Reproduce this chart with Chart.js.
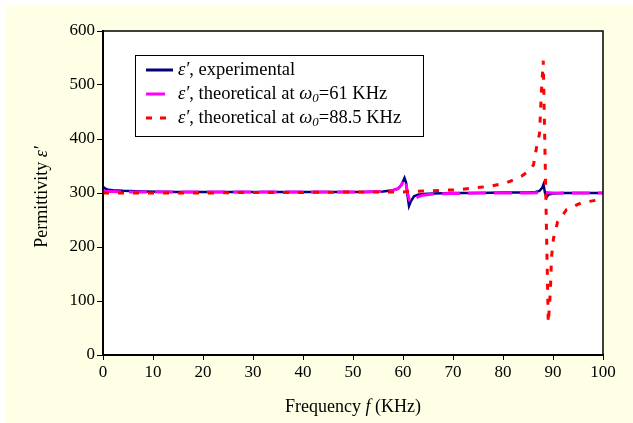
<!DOCTYPE html>
<html>
<head>
<meta charset="utf-8">
<script src="https://cdn.jsdelivr.net/npm/chart.js@4.4.1/dist/chart.umd.min.js"></script>
<style>
  html, body { margin: 0; padding: 0; background: #fff; }
  #wrap { width: 633px; height: 423px; }
</style>
</head>
<body>
<div id="wrap"><canvas id="graph"></canvas></div>
<script>
// frequency (KHz) and permittivity
const expFreq = [0, 0.3, 1, 2, 4, 8, 15, 25, 35, 45, 52, 56, 58, 59, 59.7, 60.3, 60.6, 60.9, 61.2, 61.6, 62.2, 63, 64, 66, 70, 75, 80, 85, 86.5, 87.3, 87.8, 88.1, 88.4, 88.7, 89.1, 90, 92, 95, 100];
const expPerm = [312, 309, 306, 305, 304, 303, 302, 302, 302, 302, 302, 303, 305, 308, 315, 328, 320, 295, 276, 285, 294, 297, 298, 299, 300, 300, 301, 301, 302, 304, 309, 316, 300, 292, 297, 299, 300, 300, 300];

const th61Freq = [0, 1, 5, 15, 30, 45, 52, 56, 58, 59, 59.7, 60.2, 60.6, 60.9, 61.3, 61.7, 62.3, 63, 64, 66, 70, 75, 80, 85, 88, 90, 95, 100];
const th61Perm = [303, 303, 302, 302, 302, 302, 302, 303, 305, 308, 315, 326, 318, 300, 286, 284, 289, 293, 296, 298, 299, 300, 300, 300, 301, 300, 300, 300];

const th88Freq = [0, 10, 20, 30, 40, 50, 55, 60, 62, 65, 68, 71, 74, 77.7, 80.7, 83.7, 85, 86.1, 86.7, 87.3, 87.5, 87.7, 88.05, 89.05, 89.3, 89.5, 89.7, 90.1, 90.9, 92.7, 95.7, 98.9, 100];
const th88Perm = [300, 300, 300, 301, 301, 302, 302, 302, 303, 304, 305, 306, 309, 313, 319, 331, 340, 352, 384, 410, 450, 490, 545, 60, 90, 126, 181, 216, 246, 269, 282, 287, 289];

const xTicks = [0, 10, 20, 30, 40, 50, 60, 70, 80, 90, 100];
const yTicks = [0, 100, 200, 300, 400, 500, 600];

function pts(xs, ys) {
    return xs.map((x, i) => ({ x: x, y: ys[i] }));
}

const serif = '"Liberation Serif", "Times New Roman", serif';

// legend rows: pieces are [text, italic, subscript]
const legendRows = [
    { color: '#000080', dash: [], pieces: [['ε′', true], [', experimental', false]] },
    { color: '#ff00ff', dash: [19, 9], pieces: [['ε′', true], [', theoretical at ', false], ['ω', true], ['0', true, true], ['=61 KHz', false]] },
    { color: '#ff0000', dash: [6, 8], pieces: [['ε′', true], [', theoretical at ', false], ['ω', true], ['0', true, true], ['=88.5 KHz', false]] }
];

function drawPieces(ctx, pieces, x, y, size) {
    pieces.forEach(p => {
        const sz = p[2] ? size * 0.7 : size;
        ctx.font = (p[1] ? 'italic ' : '') + sz + 'px ' + serif;
        ctx.fillText(p[0], x, p[2] ? y + size * 0.25 : y);
        x += ctx.measureText(p[0]).width;
    });
    return x;
}

function piecesWidth(ctx, pieces, size) {
    let w = 0;
    pieces.forEach(p => {
        const sz = p[2] ? size * 0.7 : size;
        ctx.font = (p[1] ? 'italic ' : '') + sz + 'px ' + serif;
        w += ctx.measureText(p[0]).width;
    });
    return w;
}

const decor = {
    id: 'decor',
    beforeDraw(chart) {
        const ctx = chart.ctx, a = chart.chartArea;
        ctx.save();
        ctx.fillStyle = '#ffffff';
        ctx.fillRect(0, 0, chart.width, chart.height);
        ctx.fillStyle = '#ffffe5';
        ctx.fillRect(6, 5, chart.width - 6, chart.height - 5);
        ctx.fillStyle = '#ffffff';
        ctx.fillRect(a.left, a.top, a.right - a.left, a.bottom - a.top);
        ctx.restore();
    },
    afterDraw(chart) {
        const ctx = chart.ctx, a = chart.chartArea;
        ctx.save();
        ctx.strokeStyle = '#000';
        ctx.lineWidth = 1.5;
        ctx.strokeRect(a.left, a.top, a.right - a.left, a.bottom - a.top);

        // axis titles
        ctx.fillStyle = '#000';
        ctx.textBaseline = 'middle';
        ctx.textAlign = 'left';
        const xt = [['Frequency ', false], ['f', true], [' (KHz)', false]];
        const xw = piecesWidth(ctx, xt, 18);
        drawPieces(ctx, xt, (a.left + a.right) / 2 - xw / 2, 407, 18);

        ctx.save();
        ctx.translate(42, 197);
        ctx.rotate(-Math.PI / 2);
        const yt = [['Permittivity ', false], ['ε′', true]];
        const yw = piecesWidth(ctx, yt, 18);
        drawPieces(ctx, yt, -yw / 2, 0, 18);
        ctx.restore();

        // legend box
        ctx.fillStyle = '#fff';
        ctx.fillRect(135, 55, 288, 81);
        ctx.strokeStyle = '#000';
        ctx.lineWidth = 1;
        ctx.strokeRect(135.5, 55.5, 288, 81);
        const rowY = [70, 94, 118];
        legendRows.forEach((r, i) => {
            ctx.strokeStyle = r.color;
            ctx.lineWidth = 3;
            ctx.setLineDash(r.dash);
            ctx.beginPath();
            ctx.moveTo(146, rowY[i]);
            ctx.lineTo(173, rowY[i]);
            ctx.stroke();
            ctx.setLineDash([]);
            ctx.fillStyle = '#000';
            drawPieces(ctx, r.pieces, 178, rowY[i], 18.5);
        });
        ctx.restore();
    }
};

const graph = document.getElementById('graph');
new Chart(graph, {
    type: 'line',
    data: {
        datasets: [{
            label: 'ε′, experimental',
            data: pts(expFreq, expPerm),
            borderColor: '#000080',
            borderWidth: 2.5,
            order: 3
        }, {
            label: 'ε′, theoretical at ω0=61 KHz',
            data: pts(th61Freq, th61Perm),
            borderColor: '#ff00ff',
            borderWidth: 3,
            borderDash: [18, 8],
            order: 2
        }, {
            label: 'ε′, theoretical at ω0=88.5 KHz',
            data: pts(th88Freq, th88Perm),
            borderColor: '#ff0000',
            borderWidth: 3,
            borderDash: [6, 9],
            order: 1
        }]
    },
    options: {
        responsive: true,
        maintainAspectRatio: false,
        animation: false,
        elements: { point: { radius: 0 }, line: { tension: 0 } },
        layout: { padding: { left: 0, top: 31, right: 30, bottom: 0 } },
        plugins: { legend: { display: false }, tooltip: { enabled: false } },
        scales: {
            x: {
                type: 'linear',
                min: 0,
                max: 100,
                afterBuildTicks: s => { s.ticks = xTicks.map(v => ({ value: v })); },
                afterFit: s => { s.height = 68; },
                grid: { drawOnChartArea: false, drawTicks: true, tickLength: 5, color: '#000', lineWidth: 1 },
                border: { display: true, color: '#000', width: 2 },
                ticks: { color: '#000', font: { family: serif, size: 17 }, padding: 2, maxRotation: 0 }
            },
            y: {
                min: 0,
                max: 600,
                afterBuildTicks: s => { s.ticks = yTicks.map(v => ({ value: v })); },
                afterFit: s => { s.width = 103; },
                grid: { drawOnChartArea: false, drawTicks: true, tickLength: 6, color: '#000', lineWidth: 1 },
                border: { display: true, color: '#000', width: 2 },
                ticks: { color: '#000', font: { family: serif, size: 17 }, padding: 2 }
            }
        }
    },
    plugins: [decor]
});
</script>
</body>
</html>
